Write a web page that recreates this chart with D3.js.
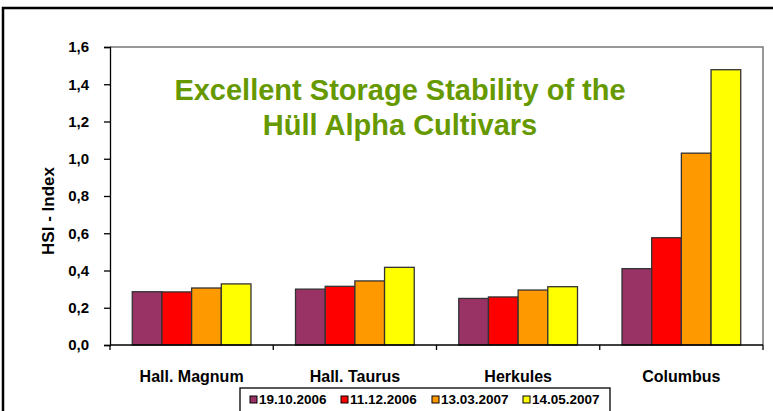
<!DOCTYPE html>
<html>
<head>
<meta charset="utf-8">
<script src="https://cdn.jsdelivr.net/npm/d3@7"></script>
<style>
  body { margin: 0; background: #fff; }
  text { font-family: Arial, "Liberation Sans", sans-serif; }
</style>
</head>
<body>
<svg id="chart" width="773" height="411"></svg>
<script>
const categories = ['Hall. Magnum', 'Hall. Taurus', 'Herkules', 'Columbus'];
const dates = ['19.10.2006', '11.12.2006', '13.03.2007', '14.05.2007'];
const colors = ['#993366', '#ff0000', '#ff9900', '#ffff00'];
// one array per sampling date, values per cultivar
const s19_10_2006 = [0.286, 0.30, 0.25, 0.41];
const s11_12_2006 = [0.285, 0.315, 0.258, 0.576];
const s13_03_2007 = [0.306, 0.344, 0.295, 1.03];
const s14_05_2007 = [0.328, 0.417, 0.313, 1.478];
const series = [s19_10_2006, s11_12_2006, s13_03_2007, s14_05_2007];
const yTicks = [0, 0.2, 0.4, 0.6, 0.8, 1.0, 1.2, 1.4, 1.6];
const titleLines = ['Excellent Storage Stability of the', 'Hüll Alpha Cultivars'];

const svg = d3.select('#chart');

const margin = {top: 47, right: 10, bottom: 66, left: 110};
const width = 763 - margin.left;
const height = 345 - margin.top;

// outer frame
svg.append('rect')
  .attr('x', 3).attr('y', 8)
  .attr('width', 800).attr('height', 420)
  .attr('fill', 'none')
  .attr('stroke', '#000')
  .attr('stroke-width', 2.5);

const g = svg.append('g').attr('transform', 'translate(' + margin.left + ',' + margin.top + ')');

const x = d3.scaleBand().domain(categories).range([0, width]);
const gap = 1.5; // excel gap width 150%
const barW = x.bandwidth() / (dates.length + gap);
const y = d3.scaleLinear().domain([0, 1.6]).range([height, 0]);

// plot area border (top/right gray)
g.append('path')
  .attr('d', `M0,0H${width}V${height}`)
  .attr('fill', 'none')
  .attr('stroke', '#777')
  .attr('stroke-width', 1.5);

// bars
series.forEach((vals, si) => {
  g.selectAll('.bar' + si)
    .data(vals)
    .enter().append('rect')
    .attr('x', (d, i) => x(categories[i]) + barW * gap / 2 + si * barW)
    .attr('y', d => y(d))
    .attr('width', barW)
    .attr('height', d => y(0) - y(d))
    .attr('fill', colors[si])
    .attr('stroke', '#333')
    .attr('stroke-width', 1.3);
});

// y axis
const yAxis = d3.axisLeft(y).tickValues(yTicks).tickSize(6).tickPadding(15)
  .tickFormat(d => d3.format('.1f')(d).replace('.', ','));
g.append('g')
  .call(yAxis)
  .call(a => a.select('.domain').attr('stroke', '#000').attr('stroke-width', 1.3))
  .call(a => a.selectAll('.tick line').attr('stroke', '#000').attr('stroke-width', 1.3))
  .call(a => a.selectAll('.tick text')
    .style('font-family', 'Arial, "Liberation Sans", sans-serif')
    .style('font-size', '15px').style('font-weight', 'bold').attr('fill', '#000'));

// x axis with category boundary ticks
g.append('line')
  .attr('x1', 0).attr('x2', width)
  .attr('y1', height).attr('y2', height)
  .attr('stroke', '#000').attr('stroke-width', 1.3);
g.selectAll('.xtick')
  .data(categories.concat([null]))
  .enter().append('line')
  .attr('x1', d => d === null ? width : x(d))
  .attr('x2', d => d === null ? width : x(d))
  .attr('y1', height).attr('y2', height + 5)
  .attr('stroke', '#000').attr('stroke-width', 1.3);
g.selectAll('.xlabel')
  .data(categories)
  .enter().append('text')
  .attr('x', d => x(d) + x.bandwidth() / 2)
  .attr('y', height + 37)
  .attr('text-anchor', 'middle')
  .style('font-size', '16px').style('font-weight', 'bold')
  .text(d => d);

// y label
svg.append('text')
  .attr('transform', 'translate(54,211) rotate(-90)')
  .attr('text-anchor', 'middle')
  .style('font-size', '17px').style('font-weight', 'bold')
  .text('HSI - Index');

// title
svg.selectAll('.title')
  .data(titleLines)
  .enter().append('text')
  .attr('x', 400)
  .attr('y', (d, i) => 100 + i * 35)
  .attr('text-anchor', 'middle')
  .attr('fill', '#669900')
  .style('font-size', '29px').style('font-weight', 'bold')
  .text(d => d);

// legend
const legend = svg.append('g').attr('transform', 'translate(240,388)');
legend.append('rect')
  .attr('width', 370).attr('height', 40)
  .attr('fill', '#fff').attr('stroke', '#000').attr('stroke-width', 1.3);
const item = legend.selectAll('.item')
  .data(dates)
  .enter().append('g')
  .attr('transform', (d, i) => 'translate(' + (10 + i * 91) + ',0)');
item.append('rect')
  .attr('x', 0).attr('y', 8)
  .attr('width', 7).attr('height', 7)
  .attr('fill', (d, i) => colors[i])
  .attr('stroke', '#000').attr('stroke-width', 1);
item.append('text')
  .attr('x', 9).attr('y', 15.5)
  .style('font-size', '13.5px').style('font-weight', 'bold')
  .text(d => d);
</script>
</body>
</html>
